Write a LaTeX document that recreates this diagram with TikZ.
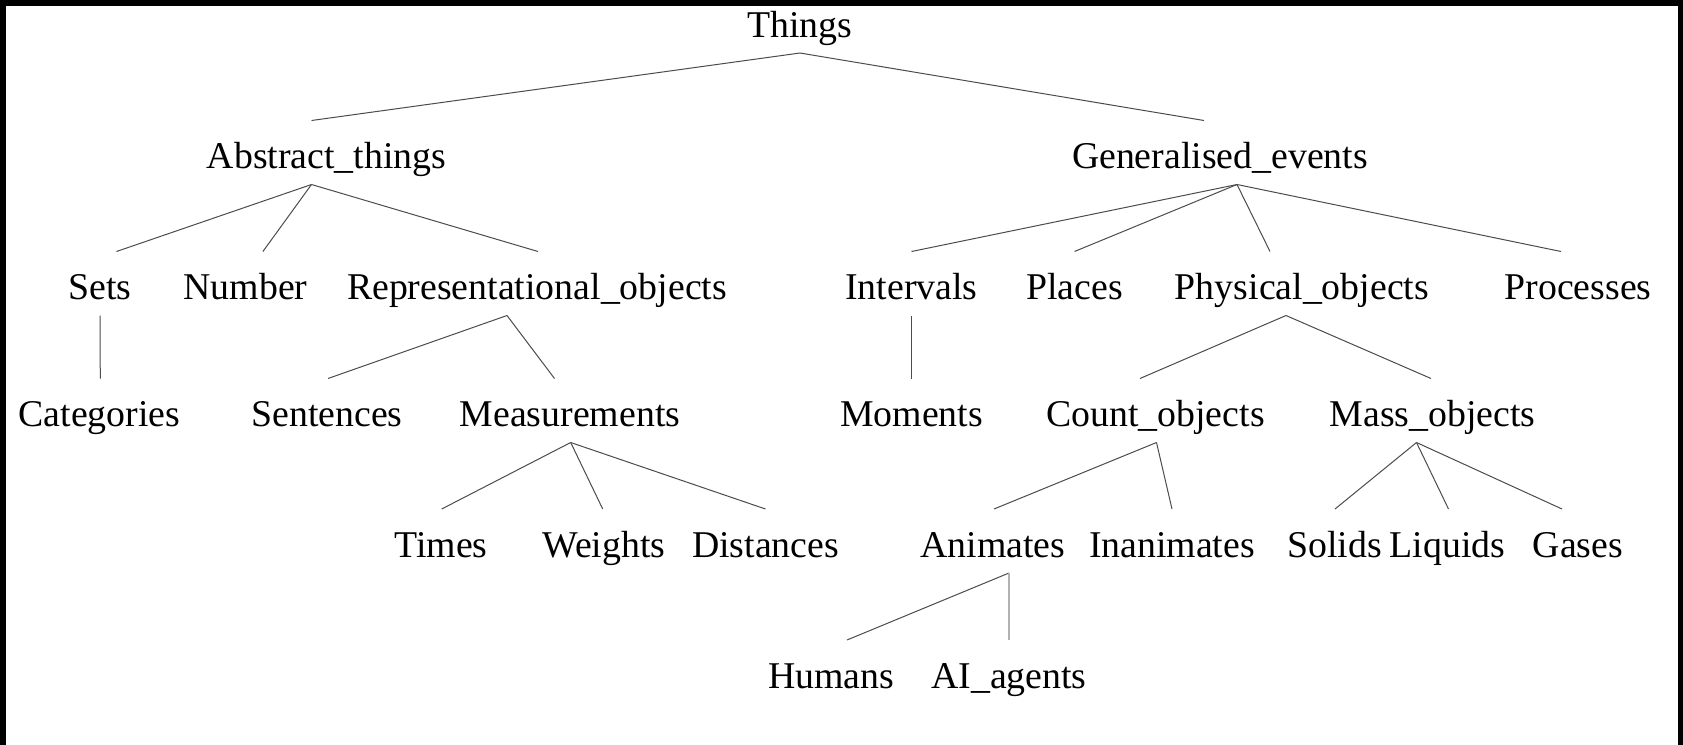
\documentclass[tikz,border=0pt]{standalone}
\usepackage{fontspec}
\setmainfont{Liberation Serif}
\usetikzlibrary{calc}

\tikzset{
  lbl/.style={anchor=base, inner sep=0pt, font=\fontsize{18.9}{22}\selectfont},
  branchline/.style={draw=black!70, line width=0.5pt},
  paleline/.style={draw=black!30, line width=0.8pt}
}

% parent, x offset at parent, child, x offset at child
\newcommand\branch[5][branchline]{%
  \draw[#1] ($(#2.base)+(#3,16)$) -- ($(#4.base)+(#5,-48)$);}

\begin{document}
\begin{tikzpicture}[x=0.5pt, y=-0.5pt]
  % frame and page
  \fill[black] (0,0) rectangle (1683,745);
  \fill[white] (6,6) rectangle (1678,745);
  \useasboundingbox (0,0) rectangle (1683,745);

  % level 1
  \node[lbl] (things) at (799.5,37) {Things};
  % level 2
  \node[lbl] (abs) at (326.5,168.5) {Abstract\_things};
  \node[lbl] (gen) at (1220,168.5) {Generalised\_events};
  % level 3
  \node[lbl] (sets) at (100,299.5) {Sets};
  \node[lbl] (num)  at (245.5,299.5) {Number};
  \node[lbl] (repr) at (537,299.5) {Representational\_objects};
  \node[lbl] (intv) at (911.5,299.5) {Intervals};
  \node[lbl] (plc)  at (1074.5,299.5) {Places};
  \node[lbl] (phys) at (1302,299.5) {Physical\_objects};
  \node[lbl] (proc) at (1578,299.5) {Processes};
  % level 4
  \node[lbl] (cat)  at (99.5,426.5) {Categories};
  \node[lbl] (sent) at (327,426.5) {Sentences};
  \node[lbl] (meas) at (570,426.5) {Measurements};
  \node[lbl] (mom)  at (911.5,426.5) {Moments};
  \node[lbl] (cnt)  at (1155.5,426.5) {Count\_objects};
  \node[lbl] (mass) at (1432.5,426.5) {Mass\_objects};
  % level 5
  \node[lbl] (times) at (441,557) {Times};
  \node[lbl] (wts)   at (604,557) {Weights};
  \node[lbl] (dist)  at (765.5,557) {Distances};
  \node[lbl] (anim)  at (993,557) {Animates};
  \node[lbl] (inan)  at (1172,557) {Inanimates};
  \node[lbl] (sol)   at (1334.5,557) {Solids};
  \node[lbl] (liq)   at (1447.5,557) {Liquids};
  \node[lbl] (gas)   at (1578,557) {Gases};
  % level 6
  \node[lbl] (hum) at (831,688) {Humans};
  \node[lbl] (ai)  at (1009,688) {AI\_agents};

  % branches
  \branch{things}{0.5}{abs}{-15}
  \branch{things}{0.5}{gen}{-16}

  \branch{abs}{-15}{sets}{16.5}
  \branch{abs}{-15}{num}{17.4}
  \branch{abs}{-15}{repr}{1}

  \branch{gen}{17}{intv}{0}
  \branch{gen}{17}{plc}{0}
  \branch{gen}{17}{phys}{-32}
  \branch{gen}{17}{proc}{-17}

  \branch{sets}{0}{cat}{0.8}
  \branch{intv}{0}{mom}{0}

  \branch{repr}{-30}{sent}{1}
  \branch{repr}{-30}{meas}{-15.5}

  \branch{phys}{-16}{cnt}{-15.5}
  \branch{phys}{-16}{mass}{-1.5}

  \branch{meas}{0.7}{times}{0.7}
  \branch{meas}{0.7}{wts}{-1.3}
  \branch{meas}{0.7}{dist}{0}

  \branch{cnt}{1}{anim}{1}
  \branch{cnt}{1}{inan}{0}

  \branch{mass}{-16}{sol}{0.5}
  \branch{mass}{-16}{liq}{1}
  \branch{mass}{-16}{gas}{-16}

  \branch{anim}{16}{hum}{16}
  \branch[paleline]{anim}{16}{ai}{0}
\end{tikzpicture}
\end{document}
